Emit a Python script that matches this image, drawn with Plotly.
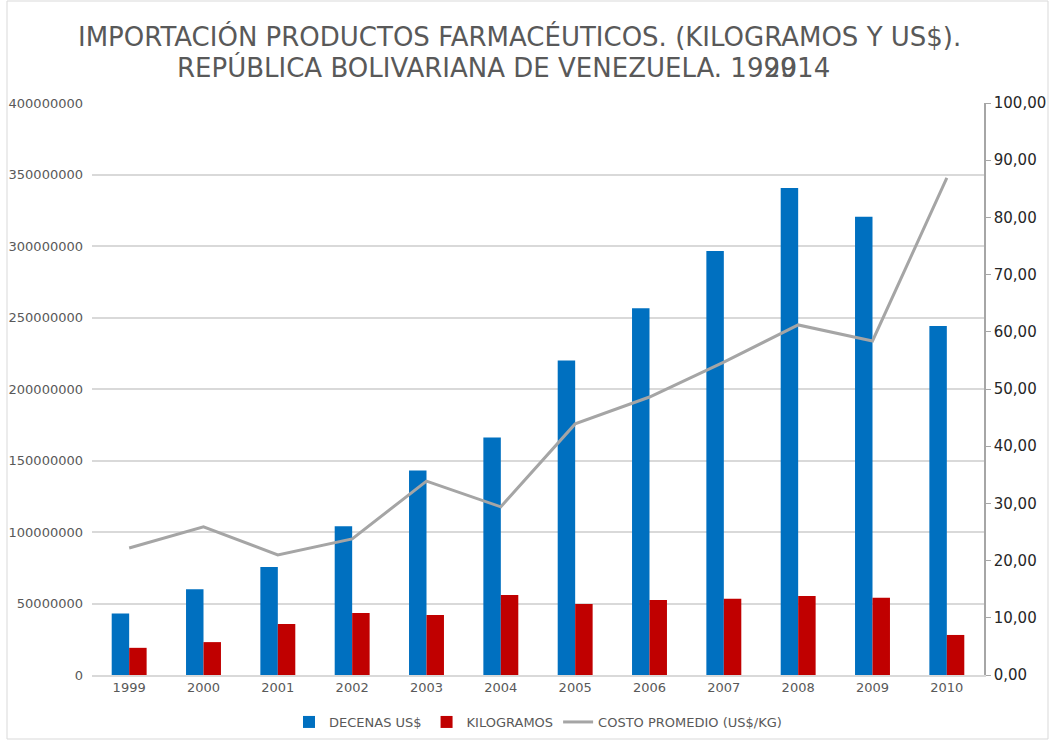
import plotly.graph_objects as go

years = ["1999", "2000", "2001", "2002", "2003", "2004", "2005", "2006", "2007", "2008", "2009", "2010"]
decenas_usd = [43e6, 60e6, 75.5e6, 104e6, 143e6, 166e6, 220e6, 256.5e6, 296.5e6, 340.5e6, 320.5e6, 244e6]
kilogramos = [19e6, 23e6, 35.7e6, 43.3e6, 42e6, 56e6, 49.7e6, 52.5e6, 53.3e6, 55.2e6, 54e6, 28e6]
costo_promedio = [22.2, 25.9, 21.0, 23.8, 33.9, 29.4, 43.9, 48.6, 54.7, 61.2, 58.4, 86.9]

W, H = 1051, 740
L, R, T, B = 92, 984, 103, 675


def px_x(p):
    return (p - L) / (R - L)


def px_y(p):
    return (B - p) / (B - T)


GRAY = "#595959"
FONT = "DejaVu Sans"

fig = go.Figure()
fig.add_trace(go.Bar(x=years, y=decenas_usd, name="DECENAS US$", marker=dict(color="#0070C0", line=dict(width=0))))
fig.add_trace(go.Bar(x=years, y=kilogramos, name="KILOGRAMOS", marker=dict(color="#C00000", line=dict(width=0))))
fig.add_trace(go.Scatter(x=years, y=costo_promedio, name="COSTO PROMEDIO (US$/KG)", mode="lines",
                         line=dict(color="#A5A5A5", width=3), yaxis="y2"))

fig.update_layout(
    width=W, height=H,
    margin=dict(l=L, r=W - R, t=T, b=H - B, autoexpand=False),
    paper_bgcolor="white", plot_bgcolor="white",
    separators=",.",
    barmode="group", bargap=0.53, bargroupgap=0,
    font=dict(family=FONT, color=GRAY, size=13),
    xaxis=dict(showgrid=False, showline=True, linecolor="#D9D9D9", linewidth=1.5,
               ticks="", tickfont=dict(size=13, color=GRAY)),
    yaxis=dict(range=[0, 400e6], dtick=50e6, tickformat="d", showgrid=True, gridcolor="#D9D9D9",
               gridwidth=1.5, zeroline=False, showline=False, ticks="",
               tickfont=dict(size=13, color=GRAY), ticklabelstandoff=8),
    yaxis2=dict(range=[0, 100], dtick=10, tickformat=".2f", overlaying="y", side="right",
                showgrid=False, zeroline=False, showline=True, linecolor="#A6A6A6", linewidth=1.5,
                ticks="outside", ticklen=5, tickcolor="#A6A6A6",
                tickfont=dict(size=15, color="#262626")),
    legend=dict(orientation="h", x=0.5, xanchor="center", y=px_y(722), yanchor="middle",
                font=dict(size=13, color=GRAY), traceorder="normal"),
    showlegend=True,
)

fig.add_annotation(text="IMPORTACIÓN PRODUCTOS FARMACÉUTICOS. (KILOGRAMOS Y US$).", xref="paper", yref="paper",
                   x=px_x(519), y=px_y(37), xanchor="center", yanchor="middle", showarrow=False,
                   font=dict(size=26, color=GRAY, family=FONT))
fig.add_annotation(text="REPÚBLICA BOLIVARIANA DE VENEZUELA. 1999", xref="paper", yref="paper",
                   x=px_x(175), y=px_y(68), xanchor="left", yanchor="middle", showarrow=False,
                   font=dict(size=26, color=GRAY, family=FONT))
fig.add_annotation(text="2014", xref="paper", yref="paper",
                   x=px_x(762), y=px_y(68), xanchor="left", yanchor="middle", showarrow=False,
                   font=dict(size=26, color=GRAY, family=FONT))

fig.add_shape(type="rect", xref="paper", yref="paper", x0=px_x(7), x1=px_x(1048), y0=px_y(739), y1=px_y(1),
              line=dict(color="#D9D9D9", width=1), fillcolor="rgba(0,0,0,0)", layer="below")

fig.write_html("out.html")
